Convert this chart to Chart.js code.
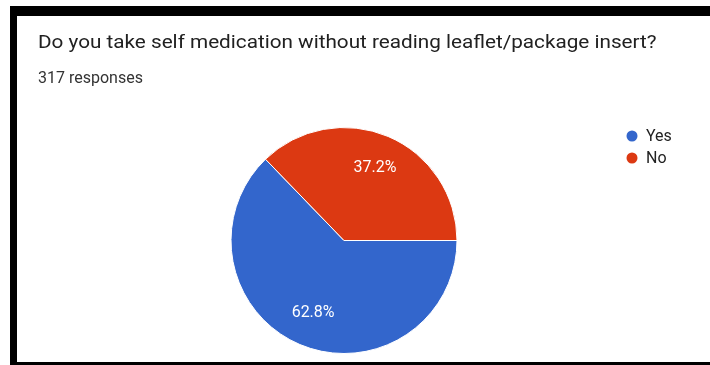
<!DOCTYPE html>
<html>
<head>
<meta charset="utf-8">
<script src="https://cdn.jsdelivr.net/npm/chart.js@4.4.1/dist/chart.umd.min.js"></script>
<style>
  html, body { margin: 0; padding: 0; background: #fff; }
  #frame {
    position: absolute; left: 10px; top: 6px; width: 700px; height: 359px;
    box-sizing: border-box;
    border-left: 7px solid #000; border-top: 10px solid #000; border-bottom: 3px solid #000;
  }
  #wrap { position: absolute; left: 0; top: 0; width: 710px; height: 365px; }
</style>
</head>
<body>
<div id="frame"></div>
<div id="wrap"><canvas id="PieChart" width="710" height="365"></canvas></div>
<script>
var question = 'Do you take self medication without reading leaflet/package insert?';
var responses = 317;
var answers = ['Yes', 'No'];
var counts = [199, 118];
var sliceColors = ['#3366cc', '#dc3912'];

// header text (question + response count)
var headerPlugin = {
  id: 'header',
  beforeDraw(chart) {
    let ctx = chart.ctx;
    ctx.save();
    ctx.textBaseline = 'alphabetic';
    ctx.textAlign = 'left';
    ctx.fillStyle = '#212121';
    ctx.font = '18px Roboto';
    // question is set a little wide
    ctx.save();
    ctx.translate(38, 47.5);
    ctx.scale(1.15, 1);
    ctx.fillText(question, 0, 0);
    ctx.restore();
    ctx.fillStyle = '#333';
    ctx.font = '16px Roboto';
    ctx.fillText(responses + ' responses', 38, 83);
    ctx.restore();
  }
};

// percentage labels inside the slices
var percentPlugin = {
  id: 'percent',
  afterDatasetsDraw(chart) {
    let ctx = chart.ctx;
    let meta = chart.getDatasetMeta(0);
    let total = counts.reduce((a, b) => a + b, 0);
    ctx.save();
    ctx.fillStyle = '#fff';
    ctx.font = '16px Roboto';
    ctx.textAlign = 'center';
    ctx.textBaseline = 'middle';
    meta.data.forEach((arc, i) => {
      let p = arc.getProps(['x', 'y', 'startAngle', 'endAngle', 'outerRadius'], true);
      let mid = (p.startAngle + p.endAngle) / 2;
      let r = p.outerRadius * 0.7;
      let txt = (counts[i] / total * 100).toFixed(1) + '%';
      ctx.fillText(txt, p.x + Math.cos(mid) * r, p.y + Math.sin(mid) * r);
    });
    ctx.restore();
  }
};

// legend on the right, round markers
var legendPlugin = {
  id: 'sideLegend',
  afterDraw(chart) {
    let ctx = chart.ctx;
    ctx.save();
    ctx.font = '16px Roboto';
    ctx.textBaseline = 'middle';
    ctx.textAlign = 'left';
    answers.forEach((a, i) => {
      let y = 136 + i * 22;
      ctx.fillStyle = sliceColors[i];
      ctx.beginPath();
      ctx.arc(632, y, 5.5, 0, Math.PI * 2);
      ctx.fill();
      ctx.fillStyle = '#222';
      ctx.fillText(a, 646, y + 1);
    });
    ctx.restore();
  }
};

new Chart('PieChart', {
  type: 'pie',
  data: {
    labels: answers,
    datasets: [{
      data: counts,
      backgroundColor: sliceColors,
      borderColor: '#fff',
      borderWidth: 1
    }]
  },
  options: {
    responsive: false,
    animation: false,
    rotation: 90,
    radius: 113,
    layout: { padding: { left: 231, right: 253, top: 127, bottom: 11 } },
    plugins: {
      legend: { display: false },
      tooltip: { enabled: false }
    }
  },
  plugins: [headerPlugin, percentPlugin, legendPlugin]
});
</script>
</body>
</html>
